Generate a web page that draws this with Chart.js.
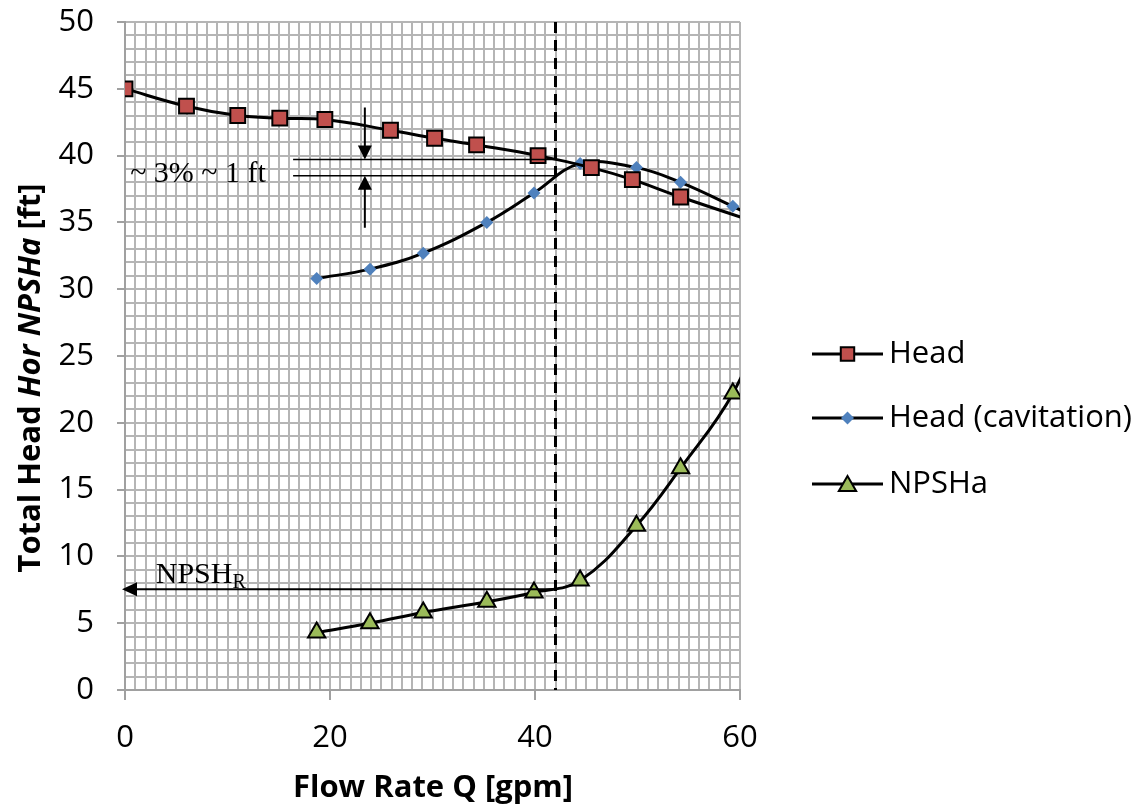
<!DOCTYPE html>
<html>
<head>
<meta charset="utf-8">
<script src="https://cdn.jsdelivr.net/npm/chart.js@4"></script>
<style>
  html, body { margin: 0; padding: 0; background: #fff; }
  #wrap { width: 1147px; height: 807px; }
</style>
</head>
<body>
<div id="wrap"><canvas id="grafico" width="1147" height="807"></canvas></div>
<script>
// ---- data ----
const flowHead = [0, 6, 11, 15.1, 19.5, 25.9, 30.2, 34.3, 40.3, 45.5, 49.5, 54.2, 64];
const head     = [45, 43.7, 43.0, 42.8, 42.7, 41.9, 41.3, 40.8, 40.0, 39.1, 38.2, 36.9, 34.4];

const flowCav  = [18.7, 23.9, 29.1, 35.3, 39.9, 44.4, 49.9, 54.2, 59.3, 64];
const headCav  = [30.8, 31.5, 32.7, 35.0, 37.2, 39.4, 39.1, 38.0, 36.2, 34.5];

const flowNpsh = [18.7, 23.9, 29.1, 35.3, 39.9, 44.4, 49.9, 54.2, 59.3, 63.5];
const npsha    = [4.3, 5.0, 5.8, 6.6, 7.3, 8.2, 12.3, 16.6, 22.2, 29.5];

const seriesNames = ['Head', 'Head (cavitation)', 'NPSHa'];
const xTicks = [0, 20, 40, 60];
const yTicks = [0, 5, 10, 15, 20, 25, 30, 35, 40, 45, 50];

// anotacoes (em unidades do grafico)
const qNpshr = 42;            // linha tracejada vertical
const npshr = 7.55;           // seta horizontal NPSH_R
const dropTop = 39.7, dropBottom = 38.5;   // faixa "~3% ~1 ft"
const dropFrom = 16.4, arrowX = 23.4, arrowTopStart = 43.6, arrowBottomStart = 34.6;

const COLORS = { red: '#c0504d', blue: '#4f81bd', green: '#9bbb59', grid: '#b5b5b5' };
const SANS = "'Open Sans', Lato, sans-serif";
const SERIF = "'Liberation Serif', 'DejaVu Serif', serif";

function pts(xs, ys) { return xs.map((x, i) => ({ x, y: ys[i] })); }

function arrowHead(ctx, x, y, dir, len, half) {
  // dir: 'down' | 'up' | 'left'
  ctx.beginPath();
  if (dir === 'down') { ctx.moveTo(x, y); ctx.lineTo(x - half, y - len); ctx.lineTo(x + half, y - len); }
  if (dir === 'up')   { ctx.moveTo(x, y); ctx.lineTo(x - half, y + len); ctx.lineTo(x + half, y + len); }
  if (dir === 'left') { ctx.moveTo(x, y); ctx.lineTo(x + len, y - half); ctx.lineTo(x + len, y + half); }
  ctx.closePath();
  ctx.fill();
}

/* =========================
   anotacoes + titulos + legenda
   ========================= */
const extras = {
  id: 'extras',
  afterDatasetsDraw(chart) {
    const { ctx, chartArea: a, scales: { x, y } } = chart;
    ctx.save();
    ctx.fillStyle = '#000';
    ctx.strokeStyle = '#000';

    // linha tracejada
    ctx.lineWidth = 3;
    ctx.setLineDash([11, 7]);
    ctx.beginPath();
    ctx.moveTo(x.getPixelForValue(qNpshr), a.top);
    ctx.lineTo(x.getPixelForValue(qNpshr), a.bottom);
    ctx.stroke();
    ctx.setLineDash([]);

    // faixa de queda de 3%
    ctx.lineWidth = 1.5;
    [dropTop, dropBottom].forEach(v => {
      ctx.beginPath();
      ctx.moveTo(x.getPixelForValue(dropFrom), y.getPixelForValue(v));
      ctx.lineTo(x.getPixelForValue(qNpshr), y.getPixelForValue(v));
      ctx.stroke();
    });
    const ax = x.getPixelForValue(arrowX);
    ctx.lineWidth = 2;
    ctx.beginPath();
    ctx.moveTo(ax, y.getPixelForValue(arrowTopStart));
    ctx.lineTo(ax, y.getPixelForValue(dropTop) - 10);
    ctx.moveTo(ax, y.getPixelForValue(arrowBottomStart));
    ctx.lineTo(ax, y.getPixelForValue(dropBottom) + 10);
    ctx.stroke();
    arrowHead(ctx, ax, y.getPixelForValue(dropTop), 'down', 14, 7);
    arrowHead(ctx, ax, y.getPixelForValue(dropBottom), 'up', 14, 7);

    ctx.font = `30px ${SERIF}`;
    ctx.textBaseline = 'alphabetic';
    ctx.textAlign = 'left';
    ctx.fillText('~ 3% ~ 1 ft', x.getPixelForValue(0.5), y.getPixelForValue(dropBottom) + 6);

    // seta NPSH_R
    const ny = y.getPixelForValue(npshr);
    ctx.lineWidth = 2;
    ctx.beginPath();
    ctx.moveTo(x.getPixelForValue(qNpshr), ny);
    ctx.lineTo(a.left + 10, ny);
    ctx.stroke();
    arrowHead(ctx, a.left - 3, ny, 'left', 15, 7);
    const tx = x.getPixelForValue(3);
    ctx.fillText('NPSH', tx, ny - 6);
    const w = ctx.measureText('NPSH').width;
    ctx.font = `20px ${SERIF}`;
    ctx.fillText('R', tx + w, ny - 1);
    ctx.restore();
  },
  afterDraw(chart) {
    const { ctx, chartArea: a } = chart;
    ctx.save();
    ctx.fillStyle = '#000';

    // titulo eixo X
    ctx.font = `bold 31px ${SANS}`;
    ctx.textAlign = 'center';
    ctx.textBaseline = 'middle';
    ctx.fillText('Flow Rate Q [gpm]', 433, 788);

    // titulo eixo Y (partes em italico)
    const parts = [
      ['Total Head ', false], ['Hor', true], [' ', false], ['NPSHa', true], [' [ft]', false]
    ];
    const fnt = it => `${it ? 'italic ' : ''}bold 31px ${SANS}`;
    let total = 0;
    parts.forEach(([t, it]) => { ctx.font = fnt(it); total += ctx.measureText(t).width; });
    ctx.translate(31, 378);
    ctx.rotate(-Math.PI / 2);
    ctx.textAlign = 'left';
    let cx = -total / 2;
    parts.forEach(([t, it]) => {
      ctx.font = fnt(it);
      ctx.fillText(t, cx, 0);
      cx += ctx.measureText(t).width;
    });
    ctx.setTransform(1, 0, 0, 1, 0, 0);

    // legenda
    const lx0 = a.right + 72, lx1 = a.right + 143;
    const rows = [354, 418, 484];
    chart.data.datasets.forEach((ds, i) => {
      const ly = rows[i];
      ctx.strokeStyle = '#000';
      ctx.lineWidth = 3;
      ctx.beginPath();
      ctx.moveTo(lx0, ly);
      ctx.lineTo(lx1, ly);
      ctx.stroke();
      ctx.fillStyle = ds.pointBackgroundColor;
      ctx.strokeStyle = ds.pointBorderColor;
      ctx.lineWidth = ds.pointBorderWidth;
      Chart.helpers.drawPoint(ctx, {
        pointStyle: ds.pointStyle,
        radius: ds.legendRadius,
        borderWidth: ds.pointBorderWidth
      }, (lx0 + lx1) / 2, ly + (ds.pointStyle === 'triangle' ? 2 : 0));
      ctx.fillStyle = '#000';
      ctx.font = `31px ${SANS}`;
      ctx.textAlign = 'left';
      ctx.textBaseline = 'middle';
      ctx.fillText(ds.label, lx1 + 6, ly);
    });
    ctx.restore();
  }
};

const ctx = document.getElementById('grafico').getContext('2d');
new Chart(ctx, {
  type: 'scatter',
  data: {
    datasets: [
      {
        label: seriesNames[0],
        data: pts(flowHead, head),
        showLine: true,
        borderColor: '#000', borderWidth: 3,
        pointStyle: 'rect', pointRadius: 10.5, legendRadius: 9.5,
        pointBackgroundColor: COLORS.red, pointBorderColor: '#000', pointBorderWidth: 2,
        tension: 0.4
      },
      {
        label: seriesNames[1],
        data: pts(flowCav, headCav),
        showLine: true,
        borderColor: '#000', borderWidth: 3,
        pointStyle: 'rectRot', pointRadius: 6.5, legendRadius: 6.5,
        pointBackgroundColor: COLORS.blue, pointBorderColor: COLORS.blue, pointBorderWidth: 0,
        tension: 0.4
      },
      {
        label: seriesNames[2],
        data: pts(flowNpsh, npsha),
        showLine: true,
        borderColor: '#000', borderWidth: 3,
        pointStyle: 'triangle', pointRadius: 10, legendRadius: 10,
        pointBackgroundColor: COLORS.green, pointBorderColor: '#000', pointBorderWidth: 2,
        tension: 0.4
      }
    ]
  },
  options: {
    responsive: false,
    animation: false,
    events: [],
    layout: { padding: { left: 0, right: 407, top: 22, bottom: 0 } },
    plugins: { legend: { display: false }, tooltip: { enabled: false } },
    scales: {
      x: {
        type: 'linear', min: 0, max: 60,
        afterBuildTicks: s => { s.ticks = Array.from({ length: 61 }, (_, i) => ({ value: i })); },
        afterFit: s => { s.height = 117; },
        ticks: {
          autoSkip: false, maxRotation: 0, padding: 20,
          color: '#000', font: { family: SANS, size: 31 },
          callback: v => (xTicks.includes(v) ? String(v) : '')
        },
        grid: {
          color: COLORS.grid, lineWidth: 2, tickLength: 10, tickWidth: 2,
          tickColor: c => (c.tick && xTicks.includes(c.tick.value) ? '#a0a0a0' : 'rgba(0,0,0,0)')
        },
        border: { color: '#a0a0a0', width: 2 }
      },
      y: {
        type: 'linear', min: 0, max: 50,
        afterBuildTicks: s => { s.ticks = Array.from({ length: 51 }, (_, i) => ({ value: i })); },
        afterFit: s => { s.width = 125; s.paddingTop = 0; },
        ticks: {
          autoSkip: false, padding: 23,
          color: '#000', font: { family: SANS, size: 31 },
          callback: v => (yTicks.includes(v) ? String(v) : '')
        },
        grid: {
          color: COLORS.grid, lineWidth: 2, tickLength: 8, tickWidth: 2,
          tickColor: c => (c.tick && yTicks.includes(c.tick.value) ? '#a0a0a0' : 'rgba(0,0,0,0)')
        },
        border: { color: '#a0a0a0', width: 2 }
      }
    }
  },
  plugins: [extras]
});
</script>
</body>
</html>
